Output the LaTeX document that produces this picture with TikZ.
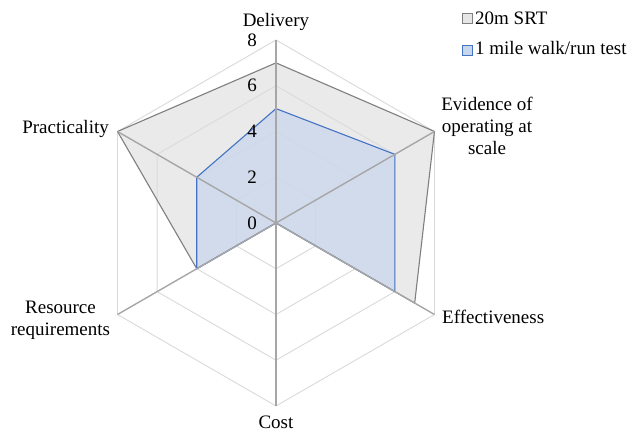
\documentclass[tikz,border=0pt]{standalone}
\usepackage{fontspec}
\setmainfont{Liberation Serif}
\newfontfamily\lserif{Liberation Serif}
\definecolor{gridgray}{HTML}{D9D9D9}
\definecolor{axisgray}{HTML}{A6A6A6}
\definecolor{srtgray}{HTML}{DCDCDC}
\definecolor{srtdark}{HTML}{7F7F7F}
\definecolor{mileblue}{HTML}{C9D7EC}
\definecolor{milestroke}{HTML}{4472C4}
\begin{document}
\begin{tikzpicture}[x=1pt,y=1pt,
  gridline/.style={draw=gridgray, line width=0.9pt},
  axisline/.style={draw=axisgray, line width=1.4pt},
  srtfill/.style={fill=srtgray, fill opacity=0.6},
  milefill/.style={fill=mileblue, fill opacity=0.72},
  srtline/.style={draw=srtdark, line width=1.1pt, line join=round},
  mileline/.style={draw=milestroke, line width=1.1pt, line join=round},
  lbl/.style={font=\lserif\fontsize{19}{22}\selectfont, inner sep=0pt, align=center},
  ticklbl/.style={font=\lserif\fontsize{19}{22}\selectfont, inner sep=0pt, anchor=east},
  keybox/.style={minimum size=10pt, inner sep=0pt, line width=0.8pt},
  keytext/.style={font=\lserif\fontsize{19}{22}\selectfont, inner sep=0pt, anchor=base west}
]
\useasboundingbox (-276,-210) rectangle (356,223);
\def\u{22.875pt}
\coordinate (o) at (0,0);
% axis ends
\coordinate (aD) at (90:8*\u);
\coordinate (aE) at (30:8*\u);
\coordinate (aF) at (-30:8*\u);
\coordinate (aC) at (-90:8*\u);
\coordinate (aR) at (210:8*\u);
\coordinate (aP) at (150:8*\u);
% grid hexagons
\foreach \v in {2,4,6,8}
  \draw[gridline] (90:\v*\u) -- (30:\v*\u) -- (-30:\v*\u) -- (-90:\v*\u) -- (210:\v*\u) -- (150:\v*\u) -- cycle;
% series 20m SRT
\coordinate (s1) at (90:7*\u);
\coordinate (s2) at (30:8*\u);
\coordinate (s3) at (-30:7*\u);
\coordinate (s5) at (210:4*\u);
\coordinate (s6) at (150:8*\u);
% series 1 mile
\coordinate (m1) at (90:5*\u);
\coordinate (m2) at (30:6*\u);
\coordinate (m3) at (-30:6*\u);
\coordinate (m5) at (210:4*\u);
\coordinate (m6) at (150:4*\u);
\fill[srtfill] (s1) -- (s2) -- (s3) -- (o) -- (s5) -- (s6) -- cycle;
\fill[milefill] (m1) -- (m2) -- (m3) -- (o) -- (m5) -- (m6) -- cycle;
\draw[srtline] (s1) -- (s2) -- (s3) -- (o) -- (s5) -- (s6) -- cycle;
\draw[mileline] (m1) -- (m2) -- (m3) -- (o) -- (m5) -- (m6) -- cycle;
% axes
\foreach \a in {aD,aE,aF,aC,aR,aP}
  \draw[axisline] (o) -- (\a);
% tick labels
\node[ticklbl] (t8) at (-19,8*22.875) {8};
\node[ticklbl] (t6) at (-19,6*22.875) {6};
\node[ticklbl] (t4) at (-19,4*22.875) {4};
\node[ticklbl] (t2) at (-19,2*22.875) {2};
\node[ticklbl] (t0) at (-19,0) {0};
% category labels
\node[lbl, anchor=base] (lD) at (0,196.3) {Delivery};
\node[lbl, anchor=base] (lE) at (211,68) {Evidence of\\operating at\\scale};
\node[lbl, anchor=base west] (lF) at (166,-101) {Effectiveness};
\node[lbl, anchor=base] (lC) at (0,-206) {Cost};
\node[lbl, anchor=base] (lR) at (-215.5,-112.7) {Resource\\requirements};
\node[lbl, anchor=base east] (lP) at (-167,89.7) {Practicality};
% legend
\node[keybox, draw=srtdark, fill=srtgray!70] (k1) at (191,204.7) {};
\node[keytext] (k1t) at (199,198.5) {20m SRT};
\node[keybox, draw=milestroke, fill=mileblue] (k2) at (191,173) {};
\node[keytext] (k2t) at (199,168) {1 mile walk/run test};
\end{tikzpicture}
\end{document}
